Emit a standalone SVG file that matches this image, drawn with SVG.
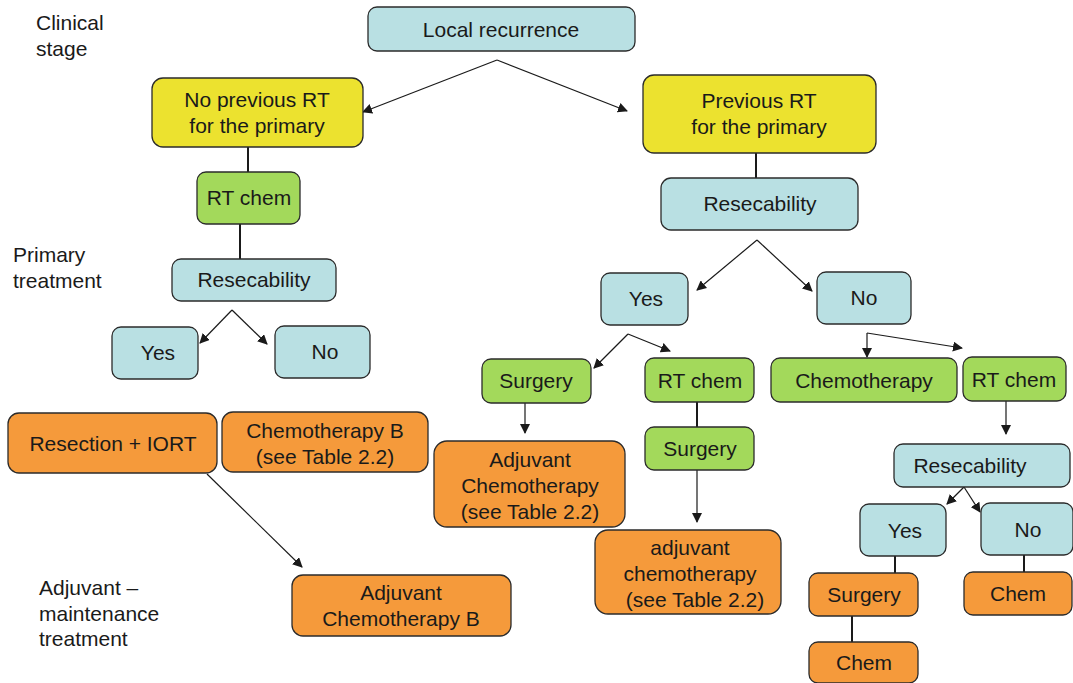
<svg xmlns="http://www.w3.org/2000/svg" width="1073" height="683" viewBox="0 0 1073 683">
  <defs>
    <marker id="arr" viewBox="0 0 10 10" refX="9" refY="5" markerWidth="10" markerHeight="10" markerUnits="userSpaceOnUse" orient="auto">
      <path d="M0,0 L10,5 L0,10 z" fill="#1a1a1a"/>
    </marker>
    <style>
      .box { stroke: #2b2b2b; stroke-width: 1.3; }
      .blue { fill: #b9e0e3; }
      .yellow { fill: #ece22f; }
      .green { fill: #a3d95b; }
      .orange { fill: #f59a3b; }
      text { font-family: "Liberation Sans", Arial, sans-serif; font-size: 21px; fill: #1a1a1a; }
      .c { text-anchor: middle; }
      .line { stroke: #1a1a1a; stroke-width: 1.2; fill: none; }
      .thick { stroke: #1a1a1a; stroke-width: 2; fill: none; }
    </style>
  </defs>
  <rect width="1073" height="683" fill="#ffffff"/>

  <!-- stage labels -->
  <g id="labels">
    <text x="36" y="30">Clinical</text>
    <text x="36" y="56">stage</text>
    <text x="13" y="262">Primary</text>
    <text x="13" y="288">treatment</text>
    <text x="39" y="595">Adjuvant –</text>
    <text x="39" y="621">maintenance</text>
    <text x="39" y="646">treatment</text>
  </g>

  <!-- connectors -->
  <g id="connectors">
    <path class="line" d="M497,60 L363,112" marker-end="url(#arr)"/>
    <path class="line" d="M497,60 L627,111" marker-end="url(#arr)"/>
    <path class="thick" d="M248,147 L248,172"/>
    <path class="thick" d="M240,224 L240,259"/>
    <path class="line" d="M232,310 L200,343" marker-end="url(#arr)"/>
    <path class="line" d="M232,310 L267,344" marker-end="url(#arr)"/>
    <path class="line" d="M207,474 L302,567" marker-end="url(#arr)"/>

    <path class="thick" d="M756,153 L756,178"/>
    <path class="line" d="M757,240 L697,290" marker-end="url(#arr)"/>
    <path class="line" d="M757,240 L812,291" marker-end="url(#arr)"/>
    <path class="line" d="M628,334 L594,368" marker-end="url(#arr)"/>
    <path class="line" d="M628,334 L670,351" marker-end="url(#arr)"/>
    <path class="line" d="M525,403 L525,433" marker-end="url(#arr)"/>
    <path class="thick" d="M697,402 L697,427"/>
    <path class="line" d="M697,470 L697,522" marker-end="url(#arr)"/>
    <path class="line" d="M867,333 L867,357" marker-end="url(#arr)"/>
    <path class="line" d="M867,333 L962,348" marker-end="url(#arr)"/>
    <path class="line" d="M1006,401 L1006,434" marker-end="url(#arr)"/>
    <path class="line" d="M964,487 L947,504" marker-end="url(#arr)"/>
    <path class="line" d="M964,487 L980,512" marker-end="url(#arr)"/>
    <path class="thick" d="M895,556 L895,573"/>
    <path class="thick" d="M1024,555 L1024,572"/>
    <path class="thick" d="M852,616 L852,642"/>
  </g>

  <!-- nodes -->
  <g id="local-recurrence">
    <rect class="box blue" x="368" y="7" width="267" height="44" rx="9"/>
    <text class="c" x="501" y="37">Local recurrence</text>
  </g>
  <g id="no-previous-rt">
    <rect class="box yellow" x="152" y="78" width="211" height="69" rx="11"/>
    <text class="c" x="257" y="107">No previous RT</text>
    <text class="c" x="257" y="133">for the primary</text>
  </g>
  <g id="previous-rt">
    <rect class="box yellow" x="643" y="75" width="233" height="78" rx="11"/>
    <text class="c" x="759" y="108">Previous RT</text>
    <text class="c" x="759" y="134">for the primary</text>
  </g>
  <g id="rt-chem-left">
    <rect class="box green" x="197" y="172" width="103" height="52" rx="9"/>
    <text class="c" x="249" y="205">RT chem</text>
  </g>
  <g id="resecability-left">
    <rect class="box blue" x="172" y="259" width="164" height="42" rx="9"/>
    <text class="c" x="254" y="287">Resecability</text>
  </g>
  <g id="yes-left">
    <rect class="box blue" x="112" y="327" width="86" height="52" rx="9"/>
    <text class="c" x="158" y="360">Yes</text>
  </g>
  <g id="no-left">
    <rect class="box blue" x="275" y="326" width="95" height="52" rx="9"/>
    <text class="c" x="325" y="359">No</text>
  </g>
  <g id="resection-iort">
    <rect class="box orange" x="8" y="413" width="209" height="60" rx="11"/>
    <text class="c" x="113" y="451">Resection + IORT</text>
  </g>
  <g id="chemotherapy-b">
    <rect class="box orange" x="222" y="412" width="206" height="60" rx="11"/>
    <text class="c" x="325" y="438">Chemotherapy B</text>
    <text class="c" x="325" y="464">(see Table 2.2)</text>
  </g>
  <g id="adjuvant-chemotherapy-b">
    <rect class="box orange" x="292" y="575" width="219" height="61" rx="11"/>
    <text class="c" x="401" y="600">Adjuvant</text>
    <text class="c" x="401" y="626">Chemotherapy B</text>
  </g>

  <g id="resecability-right">
    <rect class="box blue" x="661" y="178" width="197" height="52" rx="10"/>
    <text class="c" x="760" y="211">Resecability</text>
  </g>
  <g id="yes-right">
    <rect class="box blue" x="601" y="273" width="87" height="52" rx="9"/>
    <text class="c" x="646" y="306">Yes</text>
  </g>
  <g id="no-right">
    <rect class="box blue" x="817" y="272" width="94" height="52" rx="9"/>
    <text class="c" x="864" y="305">No</text>
  </g>
  <g id="surgery-a">
    <rect class="box green" x="482" y="359" width="109" height="44" rx="9"/>
    <text class="c" x="536" y="388">Surgery</text>
  </g>
  <g id="rt-chem-mid">
    <rect class="box green" x="645" y="358" width="109" height="44" rx="9"/>
    <text class="c" x="700" y="388">RT chem</text>
  </g>
  <g id="adjuvant-chemo-a">
    <rect class="box orange" x="434" y="441" width="191" height="86" rx="13"/>
    <text class="c" x="530" y="467">Adjuvant</text>
    <text class="c" x="530" y="493">Chemotherapy</text>
    <text class="c" x="530" y="519">(see Table 2.2)</text>
  </g>
  <g id="surgery-b">
    <rect class="box green" x="645" y="427" width="109" height="43" rx="9"/>
    <text class="c" x="700" y="456">Surgery</text>
  </g>
  <g id="adjuvant-chemo-b">
    <rect class="box orange" x="595" y="530" width="186" height="84" rx="13"/>
    <text class="c" x="690" y="555">adjuvant</text>
    <text class="c" x="690" y="581">chemotherapy</text>
    <text class="c" x="695" y="607">(see Table 2.2)</text>
  </g>
  <g id="chemotherapy">
    <rect class="box green" x="771" y="358" width="186" height="44" rx="9"/>
    <text class="c" x="864" y="388">Chemotherapy</text>
  </g>
  <g id="rt-chem-right">
    <rect class="box green" x="963" y="357" width="103" height="44" rx="9"/>
    <text class="c" x="1014" y="387">RT chem</text>
  </g>
  <g id="resecability-bottom">
    <rect class="box blue" x="894" y="444" width="176" height="43" rx="9"/>
    <text class="c" x="970" y="473">Resecability</text>
  </g>
  <g id="yes-bottom">
    <rect class="box blue" x="860" y="504" width="86" height="52" rx="9"/>
    <text class="c" x="905" y="538">Yes</text>
  </g>
  <g id="no-bottom">
    <rect class="box blue" x="981" y="503" width="92" height="52" rx="9"/>
    <text class="c" x="1028" y="537">No</text>
  </g>
  <g id="surgery-c">
    <rect class="box orange" x="809" y="573" width="109" height="43" rx="9"/>
    <text class="c" x="864" y="602">Surgery</text>
  </g>
  <g id="chem-right">
    <rect class="box orange" x="964" y="572" width="108" height="43" rx="9"/>
    <text class="c" x="1018" y="601">Chem</text>
  </g>
  <g id="chem-bottom">
    <rect class="box orange" x="809" y="642" width="109" height="41" rx="9"/>
    <text class="c" x="864" y="670">Chem</text>
  </g>
</svg>
